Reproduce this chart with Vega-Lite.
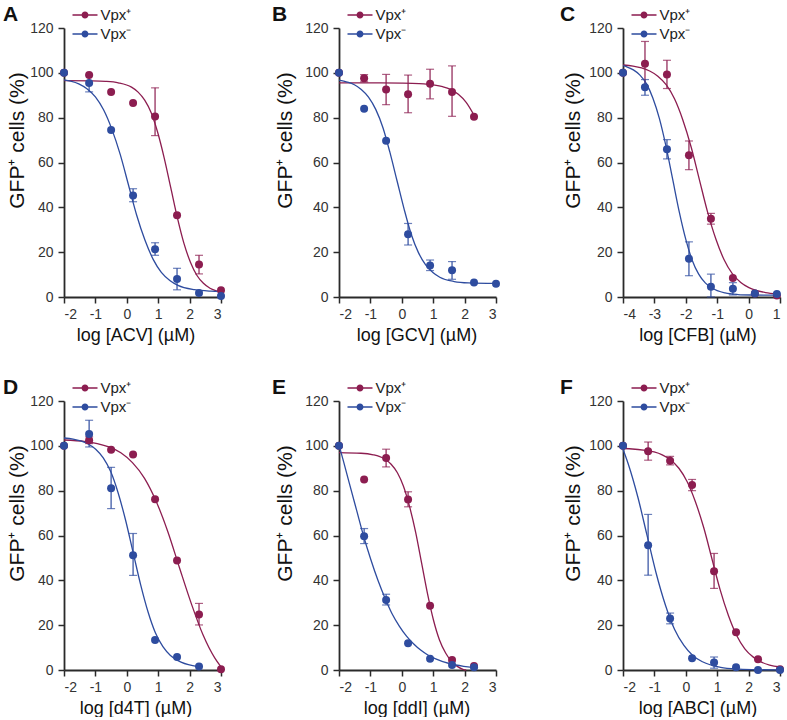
{
"$schema": "https://vega.github.io/schema/vega-lite/v6.json",
"padding": {"left": 3, "top": 3, "right": 0, "bottom": 0},
"config": {
  "font": "Liberation Sans",
  "view": {"stroke": null},
  "axis": {"grid": false, "domainColor": "#2a2a2a", "domainWidth": 1.8, "tickColor": "#2a2a2a", "tickWidth": 1.5, "tickSize": 6, "labelFontSize": 14, "labelColor": "#333333", "labelFont": "Liberation Sans", "titleFont": "Liberation Sans", "titleFontSize": 18, "titleFontWeight": "normal", "titleColor": "#111111"},
  "axisX": {"labelPadding": 4, "titlePadding": 5},
  "axisY": {"labelPadding": 5, "titleFontSize": 21},
  "title": {"anchor": "start", "frame": "group", "fontSize": 21, "fontWeight": "bold", "color": "#111111", "font": "Liberation Sans"}
},
"datasets": {
"pts": [
{"panel":"A","series":"Vpx⁺","x":-2,"y":100},{"panel":"A","series":"Vpx⁺","x":-1.2,"y":99},{"panel":"A","series":"Vpx⁺","x":-0.5,"y":91.5},{"panel":"A","series":"Vpx⁺","x":0.2,"y":86.5},{"panel":"A","series":"Vpx⁺","x":0.9,"y":80.5,"lo":72,"hi":93.3},{"panel":"A","series":"Vpx⁺","x":1.6,"y":36.5},{"panel":"A","series":"Vpx⁺","x":2.3,"y":14.5,"lo":10.3,"hi":18.6},{"panel":"A","series":"Vpx⁺","x":3,"y":3},
{"panel":"A","series":"Vpx⁻","x":-2,"y":100},{"panel":"A","series":"Vpx⁻","x":-1.2,"y":95.5,"lo":91.5,"hi":99},{"panel":"A","series":"Vpx⁻","x":-0.5,"y":74.5},{"panel":"A","series":"Vpx⁻","x":0.2,"y":45.3,"lo":42.5,"hi":48.3},{"panel":"A","series":"Vpx⁻","x":0.9,"y":21.3,"lo":18.6,"hi":24.2},{"panel":"A","series":"Vpx⁻","x":1.6,"y":8,"lo":3.2,"hi":12.8},{"panel":"A","series":"Vpx⁻","x":2.3,"y":1.8},{"panel":"A","series":"Vpx⁻","x":3,"y":0.5},
{"panel":"B","series":"Vpx⁺","x":-2,"y":100},{"panel":"B","series":"Vpx⁺","x":-1.2,"y":97.6,"lo":96,"hi":99.2},{"panel":"B","series":"Vpx⁺","x":-0.5,"y":92.6,"lo":85.8,"hi":99.3},{"panel":"B","series":"Vpx⁺","x":0.2,"y":90.4,"lo":82.2,"hi":99},{"panel":"B","series":"Vpx⁺","x":0.9,"y":95.1,"lo":88.4,"hi":101.6},{"panel":"B","series":"Vpx⁺","x":1.6,"y":91.5,"lo":80.6,"hi":103.1},{"panel":"B","series":"Vpx⁺","x":2.3,"y":80.4},
{"panel":"B","series":"Vpx⁻","x":-2,"y":100},{"panel":"B","series":"Vpx⁻","x":-1.2,"y":84},{"panel":"B","series":"Vpx⁻","x":-0.5,"y":69.7},{"panel":"B","series":"Vpx⁻","x":0.2,"y":28,"lo":23.2,"hi":32.8},{"panel":"B","series":"Vpx⁻","x":0.9,"y":14,"lo":11.8,"hi":16.5},{"panel":"B","series":"Vpx⁻","x":1.6,"y":11.9,"lo":7.9,"hi":15.8},{"panel":"B","series":"Vpx⁻","x":2.3,"y":6.5},{"panel":"B","series":"Vpx⁻","x":3,"y":5.9},
{"panel":"C","series":"Vpx⁺","x":-4,"y":100},{"panel":"C","series":"Vpx⁺","x":-3.3,"y":104,"lo":94,"hi":114},{"panel":"C","series":"Vpx⁺","x":-2.6,"y":99.3,"lo":93,"hi":105.6},{"panel":"C","series":"Vpx⁺","x":-1.9,"y":63.2,"lo":56.8,"hi":69.6},{"panel":"C","series":"Vpx⁺","x":-1.2,"y":34.9,"lo":32.5,"hi":37.3},{"panel":"C","series":"Vpx⁺","x":-0.5,"y":8.5},{"panel":"C","series":"Vpx⁺","x":0.2,"y":1.6},{"panel":"C","series":"Vpx⁺","x":0.9,"y":0.7},
{"panel":"C","series":"Vpx⁻","x":-4,"y":100},{"panel":"C","series":"Vpx⁻","x":-3.3,"y":93.6,"lo":90,"hi":97},{"panel":"C","series":"Vpx⁻","x":-2.6,"y":65.9,"lo":61.6,"hi":70.2},{"panel":"C","series":"Vpx⁻","x":-1.9,"y":17.1,"lo":9.5,"hi":24.6},{"panel":"C","series":"Vpx⁻","x":-1.2,"y":4.6,"lo":0,"hi":10.2},{"panel":"C","series":"Vpx⁻","x":-0.5,"y":3.7,"lo":0.9,"hi":6.4},{"panel":"C","series":"Vpx⁻","x":0.2,"y":1.6},{"panel":"C","series":"Vpx⁻","x":0.9,"y":1.3},
{"panel":"D","series":"Vpx⁺","x":-2,"y":100},{"panel":"D","series":"Vpx⁺","x":-1.2,"y":102.5,"lo":101,"hi":104},{"panel":"D","series":"Vpx⁺","x":-0.5,"y":98.3},{"panel":"D","series":"Vpx⁺","x":0.2,"y":96.1},{"panel":"D","series":"Vpx⁺","x":0.9,"y":76.2},{"panel":"D","series":"Vpx⁺","x":1.6,"y":48.9},{"panel":"D","series":"Vpx⁺","x":2.3,"y":24.8,"lo":20.1,"hi":29.7},{"panel":"D","series":"Vpx⁺","x":3,"y":0.3},
{"panel":"D","series":"Vpx⁻","x":-2,"y":100},{"panel":"D","series":"Vpx⁻","x":-1.2,"y":105.3,"lo":99.5,"hi":111.4},{"panel":"D","series":"Vpx⁻","x":-0.5,"y":81.1,"lo":72,"hi":90.4},{"panel":"D","series":"Vpx⁻","x":0.2,"y":51.2,"lo":42.2,"hi":60.9},{"panel":"D","series":"Vpx⁻","x":0.9,"y":13.4},{"panel":"D","series":"Vpx⁻","x":1.6,"y":5.8},{"panel":"D","series":"Vpx⁻","x":2.3,"y":1.6},
{"panel":"E","series":"Vpx⁺","x":-2,"y":100},{"panel":"E","series":"Vpx⁺","x":-1.2,"y":85},{"panel":"E","series":"Vpx⁺","x":-0.5,"y":94.6,"lo":90.6,"hi":98.5},{"panel":"E","series":"Vpx⁺","x":0.2,"y":76.1,"lo":72.8,"hi":79.5},{"panel":"E","series":"Vpx⁺","x":0.9,"y":28.7},{"panel":"E","series":"Vpx⁺","x":1.6,"y":4.5},{"panel":"E","series":"Vpx⁺","x":2.3,"y":1.8},
{"panel":"E","series":"Vpx⁻","x":-2,"y":100},{"panel":"E","series":"Vpx⁻","x":-1.2,"y":59.7,"lo":56.4,"hi":63.1},{"panel":"E","series":"Vpx⁻","x":-0.5,"y":31.2,"lo":29,"hi":33.8},{"panel":"E","series":"Vpx⁻","x":0.2,"y":11.9},{"panel":"E","series":"Vpx⁻","x":0.9,"y":5},{"panel":"E","series":"Vpx⁻","x":1.6,"y":2.2},{"panel":"E","series":"Vpx⁻","x":2.3,"y":1.2},
{"panel":"F","series":"Vpx⁺","x":-2,"y":100},{"panel":"F","series":"Vpx⁺","x":-1.2,"y":97.6,"lo":93.6,"hi":101.7},{"panel":"F","series":"Vpx⁺","x":-0.5,"y":93.3,"lo":91.5,"hi":95.3},{"panel":"F","series":"Vpx⁺","x":0.2,"y":82.5,"lo":80,"hi":85},{"panel":"F","series":"Vpx⁺","x":0.9,"y":44.1,"lo":36.4,"hi":52},{"panel":"F","series":"Vpx⁺","x":1.6,"y":16.8},{"panel":"F","series":"Vpx⁺","x":2.3,"y":4.8},{"panel":"F","series":"Vpx⁺","x":3,"y":0.3},
{"panel":"F","series":"Vpx⁻","x":-2,"y":100},{"panel":"F","series":"Vpx⁻","x":-1.2,"y":55.7,"lo":42.3,"hi":69.4},{"panel":"F","series":"Vpx⁻","x":-0.5,"y":23,"lo":20.6,"hi":25.4},{"panel":"F","series":"Vpx⁻","x":0.2,"y":5.2},{"panel":"F","series":"Vpx⁻","x":0.9,"y":3.3,"lo":0.8,"hi":5.8},{"panel":"F","series":"Vpx⁻","x":1.6,"y":1.2},{"panel":"F","series":"Vpx⁻","x":2.3,"y":0},{"panel":"F","series":"Vpx⁻","x":3,"y":0}
],
"fit": [
{"panel":"A","series":"Vpx⁺","x":-2,"y":96.5},{"panel":"A","series":"Vpx⁺","x":-1.1,"y":96.4},{"panel":"A","series":"Vpx⁺","x":-0.68,"y":96.2},{"panel":"A","series":"Vpx⁺","x":-0.27,"y":95.55},{"panel":"A","series":"Vpx⁺","x":0.15,"y":93.6},{"panel":"A","series":"Vpx⁺","x":0.36,"y":91.4},{"panel":"A","series":"Vpx⁺","x":0.57,"y":87.8},{"panel":"A","series":"Vpx⁺","x":0.78,"y":82.1},{"panel":"A","series":"Vpx⁺","x":0.98,"y":73.6},{"panel":"A","series":"Vpx⁺","x":1.19,"y":62.1},{"panel":"A","series":"Vpx⁺","x":1.4,"y":48.75},{"panel":"A","series":"Vpx⁺","x":1.61,"y":35.4},{"panel":"A","series":"Vpx⁺","x":1.82,"y":23.9},{"panel":"A","series":"Vpx⁺","x":2.03,"y":15.4},{"panel":"A","series":"Vpx⁺","x":2.23,"y":9.7},{"panel":"A","series":"Vpx⁺","x":2.44,"y":6.1},{"panel":"A","series":"Vpx⁺","x":2.65,"y":3.9},{"panel":"A","series":"Vpx⁺","x":2.86,"y":2.7},{"panel":"A","series":"Vpx⁺","x":3,"y":2.1},
{"panel":"A","series":"Vpx⁻","x":-2,"y":96.9},{"panel":"A","series":"Vpx⁻","x":-1.79,"y":96.3},{"panel":"A","series":"Vpx⁻","x":-1.53,"y":95.1},{"panel":"A","series":"Vpx⁻","x":-1.27,"y":92.9},{"panel":"A","series":"Vpx⁻","x":-1.0,"y":89.3},{"panel":"A","series":"Vpx⁻","x":-0.74,"y":83.5},{"panel":"A","series":"Vpx⁻","x":-0.48,"y":75.0},{"panel":"A","series":"Vpx⁻","x":-0.21,"y":63.6},{"panel":"A","series":"Vpx⁻","x":0.05,"y":50.2},{"panel":"A","series":"Vpx⁻","x":0.31,"y":36.7},{"panel":"A","series":"Vpx⁻","x":0.58,"y":25.3},{"panel":"A","series":"Vpx⁻","x":0.84,"y":16.8},{"panel":"A","series":"Vpx⁻","x":1.1,"y":11.0},{"panel":"A","series":"Vpx⁻","x":1.37,"y":7.4},{"panel":"A","series":"Vpx⁻","x":1.63,"y":5.2},{"panel":"A","series":"Vpx⁻","x":2.16,"y":3.25},{"panel":"A","series":"Vpx⁻","x":2.68,"y":2.6},{"panel":"A","series":"Vpx⁻","x":3,"y":2.45},
{"panel":"B","series":"Vpx⁺","x":-2,"y":95.5},{"panel":"B","series":"Vpx⁺","x":-1,"y":95.5},{"panel":"B","series":"Vpx⁺","x":0,"y":95.4},{"panel":"B","series":"Vpx⁺","x":0.55,"y":95.2},{"panel":"B","series":"Vpx⁺","x":1.05,"y":94.55},{"panel":"B","series":"Vpx⁺","x":1.3,"y":93.8},{"panel":"B","series":"Vpx⁺","x":1.55,"y":92.6},{"panel":"B","series":"Vpx⁺","x":1.8,"y":90.4},{"panel":"B","series":"Vpx⁺","x":2.05,"y":86.8},{"panel":"B","series":"Vpx⁺","x":2.3,"y":81.1},
{"panel":"B","series":"Vpx⁻","x":-2,"y":96.7},{"panel":"B","series":"Vpx⁻","x":-1.74,"y":95.9},{"panel":"B","series":"Vpx⁻","x":-1.51,"y":94.7},{"panel":"B","series":"Vpx⁻","x":-1.29,"y":92.6},{"panel":"B","series":"Vpx⁻","x":-1.06,"y":89.2},{"panel":"B","series":"Vpx⁻","x":-0.83,"y":83.7},{"panel":"B","series":"Vpx⁻","x":-0.6,"y":75.5},{"panel":"B","series":"Vpx⁻","x":-0.38,"y":64.6},{"panel":"B","series":"Vpx⁻","x":-0.15,"y":51.75},{"panel":"B","series":"Vpx⁻","x":0.08,"y":38.9},{"panel":"B","series":"Vpx⁻","x":0.3,"y":28.0},{"panel":"B","series":"Vpx⁻","x":0.53,"y":19.8},{"panel":"B","series":"Vpx⁻","x":0.76,"y":14.3},{"panel":"B","series":"Vpx⁻","x":0.99,"y":10.9},{"panel":"B","series":"Vpx⁻","x":1.21,"y":8.8},{"panel":"B","series":"Vpx⁻","x":1.67,"y":6.9},{"panel":"B","series":"Vpx⁻","x":2.12,"y":6.3},{"panel":"B","series":"Vpx⁻","x":3,"y":6.05},
{"panel":"C","series":"Vpx⁺","x":-4,"y":103.5},{"panel":"C","series":"Vpx⁺","x":-3.68,"y":103.0},{"panel":"C","series":"Vpx⁺","x":-3.41,"y":102.2},{"panel":"C","series":"Vpx⁺","x":-3.15,"y":100.8},{"panel":"C","series":"Vpx⁺","x":-2.89,"y":98.5},{"panel":"C","series":"Vpx⁺","x":-2.62,"y":94.6},{"panel":"C","series":"Vpx⁺","x":-2.36,"y":88.4},{"panel":"C","series":"Vpx⁺","x":-2.1,"y":79.2},{"panel":"C","series":"Vpx⁺","x":-1.83,"y":66.9},{"panel":"C","series":"Vpx⁺","x":-1.57,"y":52.5},{"panel":"C","series":"Vpx⁺","x":-1.31,"y":38.1},{"panel":"C","series":"Vpx⁺","x":-1.04,"y":25.75},{"panel":"C","series":"Vpx⁺","x":-0.78,"y":16.6},{"panel":"C","series":"Vpx⁺","x":-0.52,"y":10.4},{"panel":"C","series":"Vpx⁺","x":-0.25,"y":6.5},{"panel":"C","series":"Vpx⁺","x":0.01,"y":4.2},{"panel":"C","series":"Vpx⁺","x":0.54,"y":2.0},{"panel":"C","series":"Vpx⁺","x":0.9,"y":1.46},
{"panel":"C","series":"Vpx⁻","x":-4,"y":103.2},{"panel":"C","series":"Vpx⁻","x":-3.88,"y":102.7},{"panel":"C","series":"Vpx⁻","x":-3.67,"y":101.3},{"panel":"C","series":"Vpx⁻","x":-3.46,"y":99.0},{"panel":"C","series":"Vpx⁻","x":-3.25,"y":95.1},{"panel":"C","series":"Vpx⁻","x":-3.05,"y":88.8},{"panel":"C","series":"Vpx⁻","x":-2.84,"y":79.6},{"panel":"C","series":"Vpx⁻","x":-2.63,"y":67.2},{"panel":"C","series":"Vpx⁻","x":-2.42,"y":52.65},{"panel":"C","series":"Vpx⁻","x":-2.21,"y":38.1},{"panel":"C","series":"Vpx⁻","x":-2.0,"y":25.7},{"panel":"C","series":"Vpx⁻","x":-1.8,"y":16.5},{"panel":"C","series":"Vpx⁻","x":-1.59,"y":10.2},{"panel":"C","series":"Vpx⁻","x":-1.38,"y":6.3},{"panel":"C","series":"Vpx⁻","x":-1.17,"y":4.0},{"panel":"C","series":"Vpx⁻","x":-0.75,"y":1.8},{"panel":"C","series":"Vpx⁻","x":-0.34,"y":1.1},{"panel":"C","series":"Vpx⁻","x":0.08,"y":0.9},{"panel":"C","series":"Vpx⁻","x":0.9,"y":0.8},
{"panel":"D","series":"Vpx⁺","x":-2,"y":102.6},{"panel":"D","series":"Vpx⁺","x":-1.32,"y":101.9},{"panel":"D","series":"Vpx⁺","x":-0.94,"y":101.0},{"panel":"D","series":"Vpx⁺","x":-0.57,"y":99.5},{"panel":"D","series":"Vpx⁺","x":-0.19,"y":96.9},{"panel":"D","series":"Vpx⁺","x":0.18,"y":92.5},{"panel":"D","series":"Vpx⁺","x":0.56,"y":85.6},{"panel":"D","series":"Vpx⁺","x":0.93,"y":75.4},{"panel":"D","series":"Vpx⁺","x":1.31,"y":61.6},{"panel":"D","series":"Vpx⁺","x":1.68,"y":45.5},{"panel":"D","series":"Vpx⁺","x":2.06,"y":29.4},{"panel":"D","series":"Vpx⁺","x":2.43,"y":15.6},{"panel":"D","series":"Vpx⁺","x":2.8,"y":5.4},{"panel":"D","series":"Vpx⁺","x":3,"y":1.4},
{"panel":"D","series":"Vpx⁻","x":-2,"y":103.5},{"panel":"D","series":"Vpx⁻","x":-1.71,"y":103.0},{"panel":"D","series":"Vpx⁻","x":-1.47,"y":102.2},{"panel":"D","series":"Vpx⁻","x":-1.23,"y":100.8},{"panel":"D","series":"Vpx⁻","x":-0.99,"y":98.5},{"panel":"D","series":"Vpx⁻","x":-0.75,"y":94.6},{"panel":"D","series":"Vpx⁻","x":-0.51,"y":88.4},{"panel":"D","series":"Vpx⁻","x":-0.28,"y":79.2},{"panel":"D","series":"Vpx⁻","x":-0.04,"y":66.9},{"panel":"D","series":"Vpx⁻","x":0.2,"y":52.5},{"panel":"D","series":"Vpx⁻","x":0.44,"y":38.1},{"panel":"D","series":"Vpx⁻","x":0.68,"y":25.75},{"panel":"D","series":"Vpx⁻","x":0.91,"y":16.6},{"panel":"D","series":"Vpx⁻","x":1.15,"y":10.4},{"panel":"D","series":"Vpx⁻","x":1.39,"y":6.5},{"panel":"D","series":"Vpx⁻","x":1.63,"y":4.2},{"panel":"D","series":"Vpx⁻","x":2.1,"y":2.0},{"panel":"D","series":"Vpx⁻","x":2.3,"y":1.64},
{"panel":"E","series":"Vpx⁺","x":-2,"y":97},{"panel":"E","series":"Vpx⁺","x":-1.3,"y":96.7},{"panel":"E","series":"Vpx⁺","x":-0.91,"y":96.0},{"panel":"E","series":"Vpx⁺","x":-0.72,"y":95.3},{"panel":"E","series":"Vpx⁺","x":-0.53,"y":94.0},{"panel":"E","series":"Vpx⁺","x":-0.34,"y":91.8},{"panel":"E","series":"Vpx⁺","x":-0.14,"y":88.0},{"panel":"E","series":"Vpx⁺","x":0.05,"y":82.1},{"panel":"E","series":"Vpx⁺","x":0.24,"y":73.3},{"panel":"E","series":"Vpx⁺","x":0.44,"y":61.5},{"panel":"E","series":"Vpx⁺","x":0.63,"y":47.75},{"panel":"E","series":"Vpx⁺","x":0.82,"y":33.95},{"panel":"E","series":"Vpx⁺","x":1.01,"y":22.2},{"panel":"E","series":"Vpx⁺","x":1.2,"y":13.4},{"panel":"E","series":"Vpx⁺","x":1.4,"y":7.45},{"panel":"E","series":"Vpx⁺","x":1.59,"y":3.7},{"panel":"E","series":"Vpx⁺","x":1.78,"y":1.5},{"panel":"E","series":"Vpx⁺","x":1.97,"y":0.2},{"panel":"E","series":"Vpx⁺","x":2.05,"y":0},
{"panel":"E","series":"Vpx⁻","x":-2,"y":100.4},{"panel":"E","series":"Vpx⁻","x":-1.85,"y":92.7},{"panel":"E","series":"Vpx⁻","x":-1.67,"y":83.25},{"panel":"E","series":"Vpx⁻","x":-1.44,"y":71.3},{"panel":"E","series":"Vpx⁻","x":-1.22,"y":59.9},{"panel":"E","series":"Vpx⁻","x":-0.99,"y":49.4},{"panel":"E","series":"Vpx⁻","x":-0.76,"y":40.0},{"panel":"E","series":"Vpx⁻","x":-0.53,"y":31.9},{"panel":"E","series":"Vpx⁻","x":-0.31,"y":25.1},{"panel":"E","series":"Vpx⁻","x":-0.08,"y":19.6},{"panel":"E","series":"Vpx⁻","x":0.15,"y":15.1},{"panel":"E","series":"Vpx⁻","x":0.38,"y":11.6},{"panel":"E","series":"Vpx⁻","x":0.6,"y":8.9},{"panel":"E","series":"Vpx⁻","x":0.83,"y":6.7},{"panel":"E","series":"Vpx⁻","x":1.06,"y":5.1},{"panel":"E","series":"Vpx⁻","x":1.51,"y":2.9},{"panel":"E","series":"Vpx⁻","x":1.97,"y":1.65},{"panel":"E","series":"Vpx⁻","x":2.3,"y":1.1},
{"panel":"F","series":"Vpx⁺","x":-2,"y":98.8},{"panel":"F","series":"Vpx⁺","x":-1.8,"y":98.7},{"panel":"F","series":"Vpx⁺","x":-1.28,"y":98.0},{"panel":"F","series":"Vpx⁺","x":-1.01,"y":97.3},{"panel":"F","series":"Vpx⁺","x":-0.75,"y":96.0},{"panel":"F","series":"Vpx⁺","x":-0.49,"y":93.8},{"panel":"F","series":"Vpx⁺","x":-0.22,"y":90.0},{"panel":"F","series":"Vpx⁺","x":0.04,"y":84.1},{"panel":"F","series":"Vpx⁺","x":0.3,"y":75.3},{"panel":"F","series":"Vpx⁺","x":0.57,"y":63.55},{"panel":"F","series":"Vpx⁺","x":0.83,"y":49.75},{"panel":"F","series":"Vpx⁺","x":1.09,"y":35.95},{"panel":"F","series":"Vpx⁺","x":1.36,"y":24.2},{"panel":"F","series":"Vpx⁺","x":1.62,"y":15.4},{"panel":"F","series":"Vpx⁺","x":1.88,"y":9.45},{"panel":"F","series":"Vpx⁺","x":2.15,"y":5.74},{"panel":"F","series":"Vpx⁺","x":2.41,"y":3.5},{"panel":"F","series":"Vpx⁺","x":2.67,"y":2.2},{"panel":"F","series":"Vpx⁺","x":3,"y":1.35},
{"panel":"F","series":"Vpx⁻","x":-2,"y":98.5},{"panel":"F","series":"Vpx⁻","x":-1.83,"y":91.8},{"panel":"F","series":"Vpx⁻","x":-1.53,"y":77.3},{"panel":"F","series":"Vpx⁻","x":-1.24,"y":60.4},{"panel":"F","series":"Vpx⁻","x":-0.95,"y":43.5},{"panel":"F","series":"Vpx⁻","x":-0.65,"y":29.0},{"panel":"F","series":"Vpx⁻","x":-0.36,"y":18.2},{"panel":"F","series":"Vpx⁻","x":-0.06,"y":11.0},{"panel":"F","series":"Vpx⁻","x":0.23,"y":6.4},{"panel":"F","series":"Vpx⁻","x":0.53,"y":3.7},{"panel":"F","series":"Vpx⁻","x":1.11,"y":1.2},{"panel":"F","series":"Vpx⁻","x":1.7,"y":0.4},{"panel":"F","series":"Vpx⁻","x":2.29,"y":0.12},{"panel":"F","series":"Vpx⁻","x":3,"y":0.03}
]
},
"spacing": 32,
"resolve": {"scale": {"color": "independent"}, "legend": {"color": "independent"}},
"vconcat": [
{"bounds": "flush", "spacing": 118, "resolve": {"scale": {"color": "independent"}, "legend": {"color": "independent"}},
 "hconcat": [
  {"width": 157, "height": 269, "title": {"text": "A", "dx": -61, "dy": 21},
   "encoding": {"x": {"field": "x", "type": "quantitative", "scale": {"domain": [-2, 3], "nice": false, "zero": false}, "axis": {"values": [-2,-1,0,1,2,3], "labelExpr": "'' + datum.value", "titleX": 71.5}, "title": "log [ACV] (µM)"},
     "y": {"field": "y", "type": "quantitative", "scale": {"domain": [0, 120], "nice": false}, "axis": {"values": [0,20,40,60,80,100,120], "titlePadding": 2, "titleY": 112}, "title": "GFP⁺ cells (%)"},
     "color": {"field": "series", "type": "nominal", "scale": {"domain": ["Vpx⁺", "Vpx⁻"], "range": ["#8C1D50", "#2E4C9F"]}, "legend": {"orient": "none", "legendX": 6, "legendY": -20.5, "title": null, "symbolType": "M-2.5,-0.13H2.5V0.13H-2.5Z M0.7,0A0.7,0.7,0,1,1,-0.7,0A0.7,0.7,0,1,1,0.7,0Z", "symbolSize": 100, "symbolStrokeWidth": 0, "symbolOffset": 7.5, "symbolOpacity": 1, "labelFontSize": 15, "labelOffset": 8, "rowPadding": 3, "labelColor": "#222222"}}},
   "layer": [
    {"data": {"name": "pts"}, "transform": [{"filter": "datum.panel === 'A'"}], "mark": {"type": "point", "shape": "circle", "filled": true, "size": 0, "opacity": 1}},
    {"data": {"name": "fit"}, "transform": [{"filter": "datum.panel === 'A'"}], "mark": {"type": "line", "interpolate": "monotone", "strokeWidth": 1.3}},
    {"data": {"name": "pts"}, "transform": [{"filter": "datum.panel === 'A' && isValid(datum.lo)"}], "mark": {"type": "errorbar", "ticks": {"size": 8}, "thickness": 1.2},
     "encoding": {"y": {"field": "lo", "type": "quantitative", "scale": {"domain": [0, 120], "nice": false}, "title": "GFP⁺ cells (%)"}, "y2": {"field": "hi"}}},
    {"data": {"name": "pts"}, "transform": [{"filter": "datum.panel === 'A'"}], "mark": {"type": "point", "shape": "circle", "filled": true, "size": 64, "opacity": 1}}
   ]},
  {"bounds": "flush", "spacing": 127, "resolve": {"scale": {"color": "independent"}, "legend": {"color": "independent"}},
   "hconcat": [
    {"width": 157, "height": 269, "title": {"text": "B", "dx": -67, "dy": 21},
     "encoding": {"x": {"field": "x", "type": "quantitative", "scale": {"domain": [-2, 3], "nice": false, "zero": false}, "axis": {"values": [-2,-1,0,1,2,3], "labelExpr": "'' + datum.value", "titleX": 77.5}, "title": "log [GCV] (µM)"},
       "y": {"field": "y", "type": "quantitative", "scale": {"domain": [0, 120], "nice": false}, "axis": {"values": [0,20,40,60,80,100,120], "titlePadding": 9, "titleY": 112}, "title": "GFP⁺ cells (%)"},
       "color": {"field": "series", "type": "nominal", "scale": {"domain": ["Vpx⁺", "Vpx⁻"], "range": ["#8C1D50", "#2E4C9F"]}, "legend": {"orient": "none", "legendX": 6, "legendY": -20.5, "title": null, "symbolType": "M-2.5,-0.13H2.5V0.13H-2.5Z M0.7,0A0.7,0.7,0,1,1,-0.7,0A0.7,0.7,0,1,1,0.7,0Z", "symbolSize": 100, "symbolStrokeWidth": 0, "symbolOffset": 7.5, "symbolOpacity": 1, "labelFontSize": 15, "labelOffset": 8, "rowPadding": 3, "labelColor": "#222222"}}},
     "layer": [
      {"data": {"name": "pts"}, "transform": [{"filter": "datum.panel === 'B'"}], "mark": {"type": "point", "shape": "circle", "filled": true, "size": 0, "opacity": 1}},
      {"data": {"name": "fit"}, "transform": [{"filter": "datum.panel === 'B'"}], "mark": {"type": "line", "interpolate": "monotone", "strokeWidth": 1.3}},
      {"data": {"name": "pts"}, "transform": [{"filter": "datum.panel === 'B' && isValid(datum.lo)"}], "mark": {"type": "errorbar", "ticks": {"size": 8}, "thickness": 1.2},
       "encoding": {"y": {"field": "lo", "type": "quantitative", "scale": {"domain": [0, 120], "nice": false}, "title": "GFP⁺ cells (%)"}, "y2": {"field": "hi"}}},
      {"data": {"name": "pts"}, "transform": [{"filter": "datum.panel === 'B'"}], "mark": {"type": "point", "shape": "circle", "filled": true, "size": 64, "opacity": 1}}
     ]},
    {"width": 157, "height": 269, "title": {"text": "C", "dx": -63, "dy": 21},
     "encoding": {"x": {"field": "x", "type": "quantitative", "scale": {"domain": [-4, 1], "nice": false, "zero": false}, "axis": {"values": [-4,-3,-2,-1,0,1], "labelExpr": "'' + datum.value", "titleX": 74.5}, "title": "log [CFB] (µM)"},
       "y": {"field": "y", "type": "quantitative", "scale": {"domain": [0, 120], "nice": false}, "axis": {"values": [0,20,40,60,80,100,120], "titlePadding": 5, "titleY": 112}, "title": "GFP⁺ cells (%)"},
       "color": {"field": "series", "type": "nominal", "scale": {"domain": ["Vpx⁺", "Vpx⁻"], "range": ["#8C1D50", "#2E4C9F"]}, "legend": {"orient": "none", "legendX": 6, "legendY": -20.5, "title": null, "symbolType": "M-2.5,-0.13H2.5V0.13H-2.5Z M0.7,0A0.7,0.7,0,1,1,-0.7,0A0.7,0.7,0,1,1,0.7,0Z", "symbolSize": 100, "symbolStrokeWidth": 0, "symbolOffset": 7.5, "symbolOpacity": 1, "labelFontSize": 15, "labelOffset": 8, "rowPadding": 3, "labelColor": "#222222"}}},
     "layer": [
      {"data": {"name": "pts"}, "transform": [{"filter": "datum.panel === 'C'"}], "mark": {"type": "point", "shape": "circle", "filled": true, "size": 0, "opacity": 1}},
      {"data": {"name": "fit"}, "transform": [{"filter": "datum.panel === 'C'"}], "mark": {"type": "line", "interpolate": "monotone", "strokeWidth": 1.3}},
      {"data": {"name": "pts"}, "transform": [{"filter": "datum.panel === 'C' && isValid(datum.lo)"}], "mark": {"type": "errorbar", "ticks": {"size": 8}, "thickness": 1.2},
       "encoding": {"y": {"field": "lo", "type": "quantitative", "scale": {"domain": [0, 120], "nice": false}, "title": "GFP⁺ cells (%)"}, "y2": {"field": "hi"}}},
      {"data": {"name": "pts"}, "transform": [{"filter": "datum.panel === 'C'"}], "mark": {"type": "point", "shape": "circle", "filled": true, "size": 64, "opacity": 1}}
     ]}
   ]}
 ]},
{"bounds": "flush", "spacing": 118, "resolve": {"scale": {"color": "independent"}, "legend": {"color": "independent"}},
 "hconcat": [
  {"width": 157, "height": 269, "title": {"text": "D", "dx": -61, "dy": 21},
   "encoding": {"x": {"field": "x", "type": "quantitative", "scale": {"domain": [-2, 3], "nice": false, "zero": false}, "axis": {"values": [-2,-1,0,1,2,3], "labelExpr": "'' + datum.value", "titleX": 71.5}, "title": "log [d4T] (µM)"},
     "y": {"field": "y", "type": "quantitative", "scale": {"domain": [0, 120], "nice": false}, "axis": {"values": [0,20,40,60,80,100,120], "titlePadding": 2, "titleY": 112}, "title": "GFP⁺ cells (%)"},
     "color": {"field": "series", "type": "nominal", "scale": {"domain": ["Vpx⁺", "Vpx⁻"], "range": ["#8C1D50", "#2E4C9F"]}, "legend": {"orient": "none", "legendX": 6, "legendY": -20.5, "title": null, "symbolType": "M-2.5,-0.13H2.5V0.13H-2.5Z M0.7,0A0.7,0.7,0,1,1,-0.7,0A0.7,0.7,0,1,1,0.7,0Z", "symbolSize": 100, "symbolStrokeWidth": 0, "symbolOffset": 7.5, "symbolOpacity": 1, "labelFontSize": 15, "labelOffset": 8, "rowPadding": 3, "labelColor": "#222222"}}},
   "layer": [
    {"data": {"name": "pts"}, "transform": [{"filter": "datum.panel === 'D'"}], "mark": {"type": "point", "shape": "circle", "filled": true, "size": 0, "opacity": 1}},
    {"data": {"name": "fit"}, "transform": [{"filter": "datum.panel === 'D'"}], "mark": {"type": "line", "interpolate": "monotone", "strokeWidth": 1.3}},
    {"data": {"name": "pts"}, "transform": [{"filter": "datum.panel === 'D' && isValid(datum.lo)"}], "mark": {"type": "errorbar", "ticks": {"size": 8}, "thickness": 1.2},
     "encoding": {"y": {"field": "lo", "type": "quantitative", "scale": {"domain": [0, 120], "nice": false}, "title": "GFP⁺ cells (%)"}, "y2": {"field": "hi"}}},
    {"data": {"name": "pts"}, "transform": [{"filter": "datum.panel === 'D'"}], "mark": {"type": "point", "shape": "circle", "filled": true, "size": 64, "opacity": 1}}
   ]},
  {"bounds": "flush", "spacing": 127, "resolve": {"scale": {"color": "independent"}, "legend": {"color": "independent"}},
   "hconcat": [
    {"width": 157, "height": 269, "title": {"text": "E", "dx": -67, "dy": 21},
     "encoding": {"x": {"field": "x", "type": "quantitative", "scale": {"domain": [-2, 3], "nice": false, "zero": false}, "axis": {"values": [-2,-1,0,1,2,3], "labelExpr": "'' + datum.value", "titleX": 77.5}, "title": "log [ddI] (µM)"},
       "y": {"field": "y", "type": "quantitative", "scale": {"domain": [0, 120], "nice": false}, "axis": {"values": [0,20,40,60,80,100,120], "titlePadding": 9, "titleY": 112}, "title": "GFP⁺ cells (%)"},
       "color": {"field": "series", "type": "nominal", "scale": {"domain": ["Vpx⁺", "Vpx⁻"], "range": ["#8C1D50", "#2E4C9F"]}, "legend": {"orient": "none", "legendX": 6, "legendY": -20.5, "title": null, "symbolType": "M-2.5,-0.13H2.5V0.13H-2.5Z M0.7,0A0.7,0.7,0,1,1,-0.7,0A0.7,0.7,0,1,1,0.7,0Z", "symbolSize": 100, "symbolStrokeWidth": 0, "symbolOffset": 7.5, "symbolOpacity": 1, "labelFontSize": 15, "labelOffset": 8, "rowPadding": 3, "labelColor": "#222222"}}},
     "layer": [
      {"data": {"name": "pts"}, "transform": [{"filter": "datum.panel === 'E'"}], "mark": {"type": "point", "shape": "circle", "filled": true, "size": 0, "opacity": 1}},
      {"data": {"name": "fit"}, "transform": [{"filter": "datum.panel === 'E'"}], "mark": {"type": "line", "interpolate": "monotone", "strokeWidth": 1.3}},
      {"data": {"name": "pts"}, "transform": [{"filter": "datum.panel === 'E' && isValid(datum.lo)"}], "mark": {"type": "errorbar", "ticks": {"size": 8}, "thickness": 1.2},
       "encoding": {"y": {"field": "lo", "type": "quantitative", "scale": {"domain": [0, 120], "nice": false}, "title": "GFP⁺ cells (%)"}, "y2": {"field": "hi"}}},
      {"data": {"name": "pts"}, "transform": [{"filter": "datum.panel === 'E'"}], "mark": {"type": "point", "shape": "circle", "filled": true, "size": 64, "opacity": 1}}
     ]},
    {"width": 157, "height": 269, "title": {"text": "F", "dx": -63, "dy": 21},
     "encoding": {"x": {"field": "x", "type": "quantitative", "scale": {"domain": [-2, 3], "nice": false, "zero": false}, "axis": {"values": [-2,-1,0,1,2,3], "labelExpr": "'' + datum.value", "titleX": 74.5}, "title": "log [ABC] (µM)"},
       "y": {"field": "y", "type": "quantitative", "scale": {"domain": [0, 120], "nice": false}, "axis": {"values": [0,20,40,60,80,100,120], "titlePadding": 5, "titleY": 112}, "title": "GFP⁺ cells (%)"},
       "color": {"field": "series", "type": "nominal", "scale": {"domain": ["Vpx⁺", "Vpx⁻"], "range": ["#8C1D50", "#2E4C9F"]}, "legend": {"orient": "none", "legendX": 6, "legendY": -20.5, "title": null, "symbolType": "M-2.5,-0.13H2.5V0.13H-2.5Z M0.7,0A0.7,0.7,0,1,1,-0.7,0A0.7,0.7,0,1,1,0.7,0Z", "symbolSize": 100, "symbolStrokeWidth": 0, "symbolOffset": 7.5, "symbolOpacity": 1, "labelFontSize": 15, "labelOffset": 8, "rowPadding": 3, "labelColor": "#222222"}}},
     "layer": [
      {"data": {"name": "pts"}, "transform": [{"filter": "datum.panel === 'F'"}], "mark": {"type": "point", "shape": "circle", "filled": true, "size": 0, "opacity": 1}},
      {"data": {"name": "fit"}, "transform": [{"filter": "datum.panel === 'F'"}], "mark": {"type": "line", "interpolate": "monotone", "strokeWidth": 1.3}},
      {"data": {"name": "pts"}, "transform": [{"filter": "datum.panel === 'F' && isValid(datum.lo)"}], "mark": {"type": "errorbar", "ticks": {"size": 8}, "thickness": 1.2},
       "encoding": {"y": {"field": "lo", "type": "quantitative", "scale": {"domain": [0, 120], "nice": false}, "title": "GFP⁺ cells (%)"}, "y2": {"field": "hi"}}},
      {"data": {"name": "pts"}, "transform": [{"filter": "datum.panel === 'F'"}], "mark": {"type": "point", "shape": "circle", "filled": true, "size": 64, "opacity": 1}}
     ]}
   ]}
 ]}
]
}
